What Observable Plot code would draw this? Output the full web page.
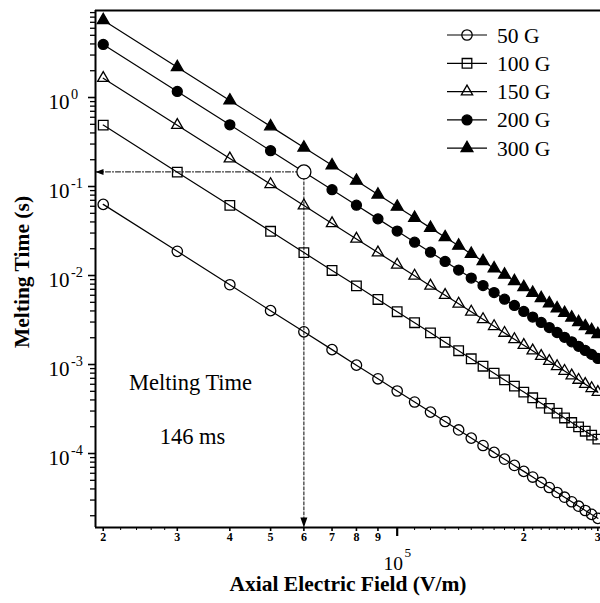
<!DOCTYPE html>
<html><head><meta charset="utf-8">
<script src="https://cdn.jsdelivr.net/npm/d3@7"></script>
<script src="https://cdn.jsdelivr.net/npm/@observablehq/plot@0.6"></script>
<style>
html,body{margin:0;padding:0;background:#fff;}
</style>
</head><body><div id="chart"></div>
<script>
// ---- data ----
const fields = [20000,30000,40000,50000,60000,70000,80000,90000,100000,110000,120000,130000,140000,150000,160000,170000,180000,190000,200000,210000,220000,230000,240000,250000,260000,270000,280000,290000,300000];
const t50G  = [0.063,0.0187,0.00788,0.00403,0.00233,0.00147,0.000984,0.000691,0.000504,0.000379,0.000292,0.000229,0.000184,0.000149,0.000123,0.000103,0.0000864,0.0000735,0.000063,0.0000544,0.0000473,0.0000415,0.0000365,0.0000323,0.0000287,0.0000256,0.0000229,0.0000207,0.0000187];
const t100G = [0.49,0.145,0.0613,0.0314,0.0181,0.0114,0.00766,0.00538,0.00392,0.00295,0.00227,0.00178,0.00143,0.00116,0.000957,0.000798,0.000672,0.000571,0.00049,0.000423,0.000368,0.000322,0.000284,0.000251,0.000223,0.000199,0.000178,0.000161,0.000145];
const t150G = [1.65,0.489,0.206,0.106,0.0611,0.0385,0.0258,0.0181,0.0132,0.00992,0.00764,0.00601,0.00481,0.00391,0.00322,0.00269,0.00226,0.00192,0.00165,0.00143,0.00124,0.00109,0.000955,0.000845,0.000751,0.00067,0.000601,0.000541,0.000489];
const t200G = [3.95,1.17,0.494,0.253,0.146,0.0921,0.0617,0.0433,0.0316,0.0237,0.0183,0.0144,0.0115,0.00936,0.00771,0.00643,0.00542,0.00461,0.00395,0.00341,0.00297,0.0026,0.00229,0.00202,0.0018,0.0016,0.00144,0.0013,0.00117];
const t300G = [7.4,2.19,0.925,0.474,0.274,0.173,0.116,0.0812,0.0592,0.0445,0.0343,0.0269,0.0216,0.0175,0.0145,0.012,0.0102,0.00863,0.0074,0.00639,0.00556,0.00487,0.00428,0.00379,0.00337,0.003,0.00269,0.00243,0.00219];
const seriesNames = ["50 G","100 G","150 G","200 G","300 G"];
const highlightField = 60000;
const highlightTime = 0.146;

const xMajorTicks = [20000,30000,40000,50000,60000,70000,80000,90000,200000,300000];
const xMajorLabels = ["2","3","4","5","6","7","8","9","2","3"];
const xDecadeTick = 100000;
const xDecadeLabel = "10^^5";
const xMinorTicks = [22000,24000,26000,28000,110000,120000,130000,140000,150000,160000,170000,180000,190000,210000,220000,230000,240000,250000,260000,270000,280000,290000];
const yMajorTicks = [1e-4,1e-3,1e-2,1e-1,1];
const yMajorLabels = ["10^-4","10^-3","10^-2","10^-1","10^0"];
const yDecades = [1e-5,1e-4,1e-3,1e-2,1e-1,1];
const yMultipliers = [2,3,4,5,6,7,8,9];
const xTitle = "Axial Electric Field (V/m)";
const yTitle = "Melting Time (s)";
const noteLine1 = "Melting Time";

// ---- build ----
const allSeries = [t50G,t100G,t150G,t200G,t300G];
const styles = [
  {symbol:"circle",   fill:"none",  r:5.2},
  {symbol:"square",   fill:"none",  r:5.4},
  {symbol:"triangle", fill:"none",  r:4.2},
  {symbol:"circle",   fill:"black", r:5.0},
  {symbol:"triangle", fill:"black", r:4.4}
];
const rows = [];
seriesNames.forEach((name,i)=>fields.forEach((E,j)=>rows.push({E, t: allSeries[i][j], series: name, i})));

const xDomain = [1.917e4, 3.044e5];
const yDomain = [1.475e-5, 9.5];
const yMinorTicks = yDecades.flatMap(d=>yMultipliers.map(m=>m*d)).filter(v=>v>yDomain[0]&&v<yDomain[1]);

const arrowLeft = {draw(ctx){ctx.moveTo(0,0);ctx.lineTo(8,-3);ctx.lineTo(8,3);ctx.closePath();}};
const arrowDown = {draw(ctx){ctx.moveTo(0,0);ctx.lineTo(-3.5,-10);ctx.lineTo(3.5,-10);ctx.closePath();}};

const marks = [
  Plot.axisX({ticks: xMinorTicks, tickSize: 3, tickFormat: () => "", label: null, strokeWidth: 1}),
  Plot.axisX({ticks: xMajorTicks, tickSize: 4, tickPadding: 1, tickFormat: d => xMajorLabels[xMajorTicks.indexOf(d)], label: null, fontSize: 12, fontWeight: "bold", strokeWidth: 1.6}),
  Plot.axisX({ticks: [xDecadeTick], tickSize: 9, tickFormat: () => "", label: null, strokeWidth: 2.2}),
  Plot.text([xDecadeTick], {x: d=>d, frameAnchor: "bottom", dy: 36, text: () => xDecadeLabel, fontSize: 19.5, lineAnchor: "middle", textAnchor: "middle"}),
  Plot.axisY({ticks: yMinorTicks, tickSize: 5, tickFormat: () => "", label: null, strokeWidth: 1.3}),
  Plot.axisY({ticks: yMajorTicks, tickSize: 7, tickFormat: () => "", label: null, strokeWidth: 1.6}),
  Plot.text(yMajorTicks, {y: d=>d, frameAnchor: "left", dx: -47, dy: 4.5, textAnchor: "start", lineAnchor: "middle", text: d => yMajorLabels[yMajorTicks.indexOf(d)], fontSize: 21}),
  Plot.text([xTitle], {frameAnchor: "bottom", dy: 57, fontSize: 21.5, fontWeight: "bold", lineAnchor: "middle", textAnchor: "middle"}),
  Plot.text([yTitle], {frameAnchor: "left", dx: -73, dy: 3, rotate: -90, fontSize: 21.5, fontWeight: "bold", lineAnchor: "middle", textAnchor: "middle"}),
  Plot.text([noteLine1], {frameAnchor: "bottom-left", dx: 95, dy: -145, fontSize: 22.5, lineAnchor: "middle", textAnchor: "middle"}),
  Plot.text([highlightTime], {frameAnchor: "bottom-left", dx: 97, dy: -91, text: d => `${Math.round(d*1000)} ms`, fontSize: 22.5, lineAnchor: "middle", textAnchor: "middle"}),
  Plot.line(rows, {x: "E", y: "t", z: "series", stroke: "black", strokeWidth: 1.2}),
  ...styles.map((s,i)=>Plot.dot(rows.filter(d=>d.i===i), {x: "E", y: "t", symbol: s.symbol, fill: s.fill, stroke: "black", strokeWidth: 1.3, r: s.r})),
  Plot.line([[xDomain[0], highlightTime],[highlightField, highlightTime]], {stroke: "black", strokeWidth: 1, strokeDasharray: "5,2,1,2"}),
  Plot.line([[highlightField, highlightTime],[highlightField, yDomain[0]]], {stroke: "black", strokeWidth: 1, strokeDasharray: "3,2"}),
  Plot.dot([highlightTime], {x: () => xDomain[0], y: d=>d, symbol: arrowLeft, fill: "black", stroke: "none"}),
  Plot.dot([highlightField], {x: d=>d, y: () => yDomain[0], symbol: arrowDown, fill: "black", stroke: "none"}),
  Plot.dot([highlightTime], {x: () => highlightField, y: d=>d, r: 7, fill: "white", stroke: "black", strokeWidth: 1.3}),
  Plot.ruleX([xDomain[0]], {stroke: "black", strokeWidth: 2}),
  Plot.ruleY([yDomain[0], yDomain[1]], {stroke: "black", strokeWidth: 2})
];

const chart = Plot.plot({
  width: 600, height: 603,
  marginLeft: 95, marginRight: 0, marginTop: 10, marginBottom: 76,
  x: {type: "log", domain: xDomain},
  y: {type: "log", domain: yDomain},
  style: {fontFamily: "'Liberation Serif','Times New Roman',serif", background: "white", color: "black", overflow: "hidden"},
  marks
});

// superscripts for "10^n"
d3.select(chart).selectAll("text").each(function(){
  const txt = this.textContent;
  const m = /^10(\^\^?)(.+)$/.exec(txt);
  if (!m || this.querySelector("tspan")) return;
  const raise = m[1] === "^^" ? 13 : 10;
  const el = d3.select(this);
  el.text("10");
  el.append("tspan").attr("dx", 1.5).attr("dy", -raise).attr("font-size", "0.68em").text(m[2]);
});

// legend
const symMap = {circle: d3.symbolCircle, square: d3.symbolSquare, triangle: d3.symbolTriangle};
const lg = d3.select(chart).append("g").attr("font-size", 21.5).attr("fill", "black").attr("text-anchor", "start");
seriesNames.forEach((name,i)=>{
  const y = 35 + i*28.3;
  lg.append("line").attr("x1",447).attr("x2",487).attr("y1",y).attr("y2",y).attr("stroke","black").attr("stroke-width",1.2);
  lg.append("path").attr("transform",`translate(467,${y})`)
    .attr("d", d3.symbol(symMap[styles[i].symbol], Math.PI*styles[i].r*styles[i].r)())
    .attr("fill", styles[i].fill).attr("stroke","black").attr("stroke-width",1.3);
  lg.append("text").attr("x",497).attr("y",y).attr("dy","0.35em").attr("text-anchor","start").text(name);
});

document.getElementById("chart").appendChild(chart);
</script>
</body></html>
